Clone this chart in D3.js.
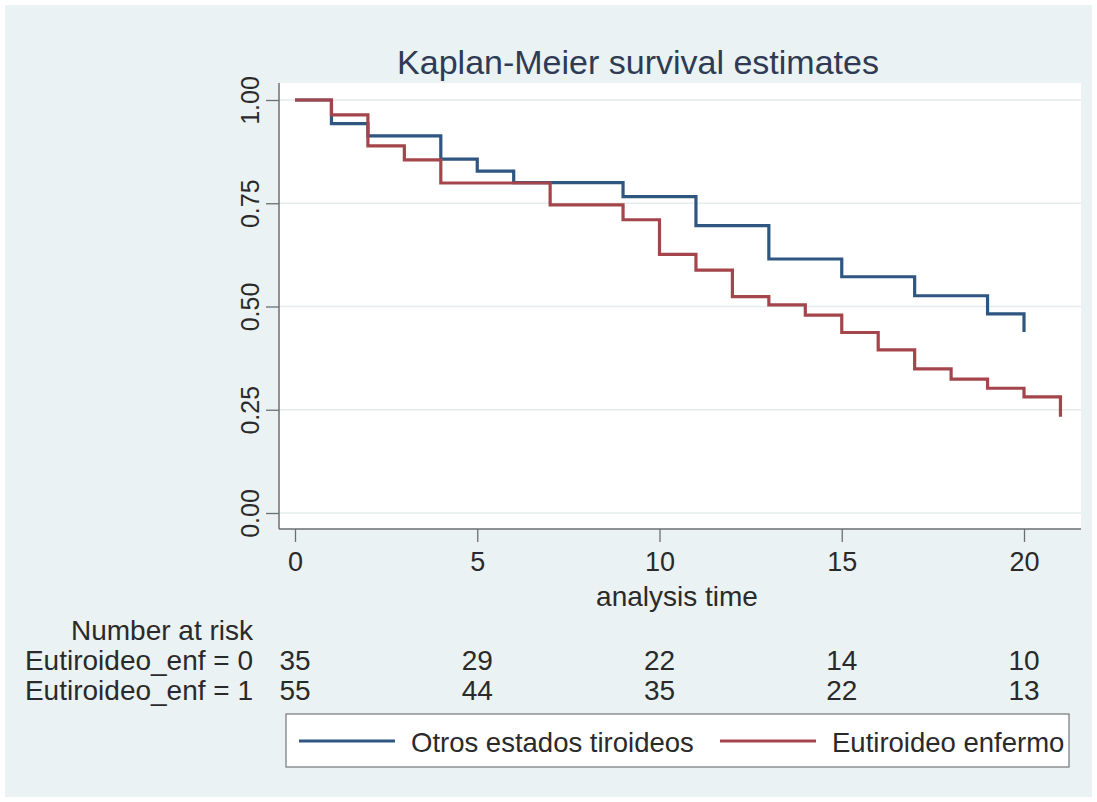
<!DOCTYPE html>
<html>
<head>
<meta charset="utf-8">
<script src="https://cdn.jsdelivr.net/npm/d3@7"></script>
<style>
  body { margin: 0; background: #ffffff; }
  svg text { font-family: "Liberation Sans", Arial, sans-serif; }
</style>
</head>
<body>
<div id="chart"></div>
<script>
// Kaplan-Meier step values
var blueTimes = [0, 1, 2, 4, 5, 6, 9, 11, 13, 15, 17, 19, 20];
var blueSurv = [1, 0.943, 0.913, 0.857, 0.828, 0.800, 0.766, 0.696, 0.615, 0.572, 0.526, 0.482, 0.438];

var redTimes = [0, 1, 2, 3, 4, 7, 9, 10, 11, 12, 13, 14, 15, 16, 17, 18, 19, 20, 21];
var redSurv = [1, 0.964, 0.889, 0.855, 0.799, 0.746, 0.710, 0.626, 0.588, 0.524, 0.504, 0.479, 0.437, 0.395, 0.349, 0.324, 0.302, 0.281, 0.233];

var xTicks = [0, 5, 10, 15, 20];
var yTicks = [0, 0.25, 0.5, 0.75, 1];

var riskLabels = ["Eutiroideo_enf = 0", "Eutiroideo_enf = 1"];
var riskGroup0 = [35, 29, 22, 14, 10];
var riskGroup1 = [55, 44, 35, 22, 13];

var legendLabels = ["Otros estados tiroideos", "Eutiroideo enfermo"];
var seriesColors = ["#2f5680", "#a4454c"];

var width = 1097, height = 802;
var svg = d3.select("#chart").append("svg")
  .attr("width", width)
  .attr("height", height);

// outer light background (Stata s2color)
svg.append("rect")
  .attr("x", 5).attr("y", 5)
  .attr("width", width - 10).attr("height", height - 10)
  .attr("fill", "#eaf2f3");

// plot region
var plotLeft = 279, plotRight = 1081, plotTop = 83, plotBottom = 529;
svg.append("rect")
  .attr("x", plotLeft).attr("y", plotTop)
  .attr("width", plotRight - plotLeft).attr("height", plotBottom - plotTop)
  .attr("fill", "#ffffff");

var x = d3.scaleLinear().domain([0, 20]).range([295, 1024]);
var y = d3.scaleLinear().domain([0, 1]).range([513, 100]);

// gridlines
svg.append("g").selectAll("line")
  .data(yTicks)
  .enter().append("line")
  .attr("x1", plotLeft).attr("x2", plotRight)
  .attr("y1", function (d) { return y(d); })
  .attr("y2", function (d) { return y(d); })
  .attr("stroke", "#e4eced")
  .attr("stroke-width", 1.5);

// y axis
var yAxis = svg.append("g")
  .attr("transform", "translate(" + plotLeft + ",0)")
  .call(d3.axisLeft(y).tickValues(yTicks).tickFormat(d3.format(".2f")).tickSize(13).tickPadding(6));
yAxis.select(".domain").attr("d", "M0," + plotTop + "V" + plotBottom).attr("stroke", "#6b6f72").attr("stroke-width", 1.5);
yAxis.selectAll(".tick line").attr("stroke", "#6b6f72").attr("stroke-width", 1.3);
yAxis.selectAll(".tick text")
  .attr("x", null).attr("dy", null)
  .attr("transform", "translate(-20,0) rotate(-90)")
  .attr("text-anchor", "middle")
  .attr("fill", "#2a2a2a")
  .style("font-size", "25px");

// x axis
var xAxis = svg.append("g")
  .attr("transform", "translate(0," + plotBottom + ")")
  .call(d3.axisBottom(x).tickValues(xTicks).tickSize(13).tickPadding(10));
xAxis.select(".domain").attr("d", "M" + plotLeft + ",0H" + plotRight).attr("stroke", "#6b6f72").attr("stroke-width", 1.5);
xAxis.selectAll(".tick line").attr("stroke", "#6b6f72").attr("stroke-width", 1.3);
xAxis.selectAll(".tick text")
  .attr("fill", "#2a2a2a")
  .style("font-size", "27px");

svg.append("text")
  .attr("x", 677).attr("y", 606)
  .attr("text-anchor", "middle")
  .attr("fill", "#2a2a2a")
  .style("font-size", "28px")
  .text("analysis time");

// title
svg.append("text")
  .attr("x", 638).attr("y", 74)
  .attr("text-anchor", "middle")
  .attr("fill", "#2f3b55")
  .style("font-size", "34px")
  .text("Kaplan-Meier survival estimates");

// survival curves
var line = d3.line()
  .x(function (d) { return x(d[0]); })
  .y(function (d) { return y(d[1]); })
  .curve(d3.curveStepAfter);

var series = [
  d3.zip(blueTimes, blueSurv),
  d3.zip(redTimes, redSurv)
];

svg.append("g").selectAll("path")
  .data(series)
  .enter().append("path")
  .attr("d", line)
  .attr("fill", "none")
  .attr("stroke", function (d, i) { return seriesColors[i]; })
  .attr("stroke-width", 3.2);

// number at risk table
var labelRight = 253;
svg.append("text")
  .attr("x", labelRight).attr("y", 640)
  .attr("text-anchor", "end")
  .attr("fill", "#2a2a2a")
  .style("font-size", "28px")
  .text("Number at risk");

[riskGroup0, riskGroup1].forEach(function (vals, r) {
  var rowY = 670 + r * 30;
  svg.append("text")
    .attr("x", labelRight).attr("y", rowY)
    .attr("text-anchor", "end")
    .attr("fill", "#2a2a2a")
    .style("font-size", "28px")
    .text(riskLabels[r]);
  svg.append("g").selectAll("text")
    .data(vals)
    .enter().append("text")
    .attr("x", function (d, i) { return x(xTicks[i]); })
    .attr("y", rowY)
    .attr("text-anchor", "middle")
    .attr("fill", "#2a2a2a")
    .style("font-size", "28px")
    .text(function (d) { return d; });
});

// legend
var legend = svg.append("g");
legend.append("rect")
  .attr("x", 286).attr("y", 714)
  .attr("width", 1069 - 286).attr("height", 53)
  .attr("fill", "#ffffff")
  .attr("stroke", "#7d8083")
  .attr("stroke-width", 1.3);

var legendX = [299, 720];
legendLabels.forEach(function (lab, i) {
  legend.append("line")
    .attr("x1", legendX[i]).attr("x2", legendX[i] + 96)
    .attr("y1", 741).attr("y2", 741)
    .attr("stroke", seriesColors[i])
    .attr("stroke-width", 3);
  legend.append("text")
    .attr("x", legendX[i] + 112).attr("y", 752)
    .attr("fill", "#2a2a2a")
    .style("font-size", "27.5px")
    .text(lab);
});
</script>
</body>
</html>
